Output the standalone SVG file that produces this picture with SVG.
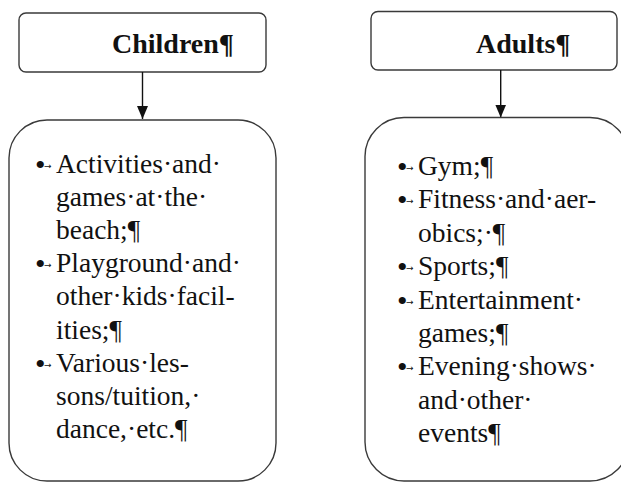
<svg xmlns="http://www.w3.org/2000/svg" width="621" height="482" viewBox="0 0 621 482">
<style>
.box{fill:#fff;stroke:#3a3a3a;stroke-width:1.4}
.hd{font-family:"Liberation Serif","Times New Roman",serif;font-weight:bold;font-size:28px;fill:#111}
.tx{font-family:"Liberation Serif","Times New Roman",serif;font-size:27.5px;fill:#111}
.bl{font-family:"Liberation Serif","Times New Roman",serif;font-size:30px;fill:#111}
.ar{font-family:"DejaVu Sans",sans-serif;font-size:9px;fill:#111}
.cn{stroke:#111;stroke-width:1.4;fill:none}
</style>
<defs>
<marker id="ah" markerWidth="13" markerHeight="11" refX="13" refY="5.5" orient="auto" markerUnits="userSpaceOnUse" viewBox="0 0 13 11">
<polygon points="0,0 13,5.5 0,11" fill="#111"/>
</marker>
</defs>
<rect width="621" height="482" fill="#fff"/>
<g id="children-header">
<rect class="box" x="19" y="13" width="247" height="59" rx="7"/>
<text class="hd" x="112" y="53">Children¶</text>
</g>
<g id="adults-header">
<rect class="box" x="371" y="11.5" width="246" height="58.5" rx="7"/>
<text class="hd" x="476" y="53">Adults¶</text>
</g>
<g id="connectors">
<line class="cn" x1="142.5" y1="72" x2="142.5" y2="119" marker-end="url(#ah)"/>
<line class="cn" x1="500.7" y1="70" x2="500.7" y2="117.5" marker-end="url(#ah)"/>
</g>
<g id="children-list">
<rect class="box" x="9" y="120" width="267" height="361" rx="38"/>
<text class="bl" x="35" y="175">•</text><text class="ar" x="44" y="169">→</text>
<text class="tx" x="56" y="173">Activities·and·</text>
<text class="tx" x="56" y="206.1">games·at·the·</text>
<text class="tx" x="56" y="239.2">beach;¶</text>
<text class="bl" x="35" y="274.3">•</text><text class="ar" x="44" y="268.3">→</text>
<text class="tx" x="56" y="272.3">Playground·and·</text>
<text class="tx" x="56" y="305.4">other·kids·facil-</text>
<text class="tx" x="56" y="338.5">ities;¶</text>
<text class="bl" x="35" y="373.6">•</text><text class="ar" x="44" y="367.6">→</text>
<text class="tx" x="56" y="371.6">Various·les-</text>
<text class="tx" x="56" y="404.7">sons/tuition,·</text>
<text class="tx" x="56" y="437.8">dance,·etc.¶</text>
</g>
<g id="adults-list">
<rect class="box" x="365" y="117.5" width="264" height="363.5" rx="39"/>
<text class="bl" x="397" y="177">•</text><text class="ar" x="406" y="171">→</text>
<text class="tx" x="418" y="175">Gym;¶</text>
<text class="bl" x="397" y="210.4">•</text><text class="ar" x="406" y="204.4">→</text>
<text class="tx" x="418" y="208.4">Fitness·and·aer-</text>
<text class="tx" x="418" y="241.8">obics;·¶</text>
<text class="bl" x="397" y="277.2">•</text><text class="ar" x="406" y="271.2">→</text>
<text class="tx" x="418" y="275.2">Sports;¶</text>
<text class="bl" x="397" y="310.6">•</text><text class="ar" x="406" y="304.6">→</text>
<text class="tx" x="418" y="308.6">Entertainment·</text>
<text class="tx" x="418" y="342">games;¶</text>
<text class="bl" x="397" y="377.4">•</text><text class="ar" x="406" y="371.4">→</text>
<text class="tx" x="418" y="375.4">Evening·shows·</text>
<text class="tx" x="418" y="408.8">and·other·</text>
<text class="tx" x="418" y="442.2">events¶</text>
</g>
</svg>
